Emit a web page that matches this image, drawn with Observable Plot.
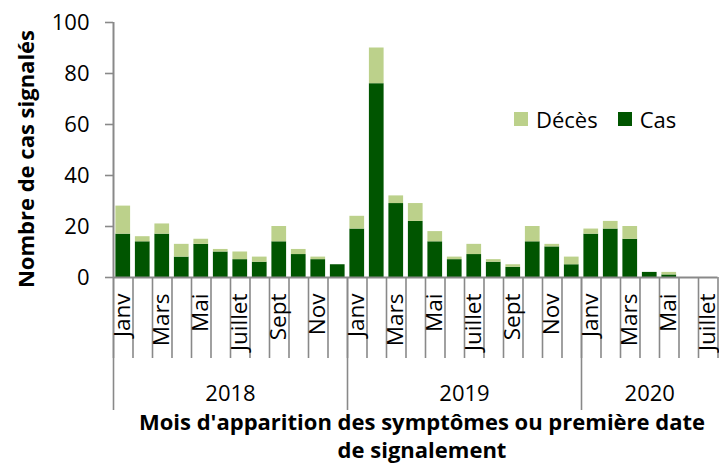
<!DOCTYPE html>
<html>
<head>
<meta charset="utf-8">
<script src="https://cdn.jsdelivr.net/npm/d3@7"></script>
<script src="https://cdn.jsdelivr.net/npm/@observablehq/plot@0.6"></script>
<style>
  html, body { margin: 0; padding: 0; background: #fff; }
  #chart { position: relative; width: 719px; height: 468px; font-family: 'Open Sans', sans-serif; color: #000; overflow: hidden; }
  #chart svg { position: absolute; left: 0; top: 0; }
  .ytitle { position: absolute; left: 25px; top: 159px; transform: translate(-50%, -50%) rotate(-90deg); font-weight: bold; font-size: 22px; white-space: nowrap; }
  .xtitle { position: absolute; left: 122px; width: 600px; top: 407px; text-align: center; font-weight: bold; font-size: 22px; line-height: 28px; }
  .legend { position: absolute; left: 514px; top: 108px; display: flex; align-items: center; gap: 20px; font-size: 22px; line-height: 22px; }
  .legend .item { display: flex; align-items: center; }
  .legend .sw { width: 14px; height: 14px; margin-right: 8px; }
</style>
</head>
<body>
<div id="chart"></div>
<script>
// ---- data ----
const years = ["2018", "2019", "2020"];
const monthsPerYear = [12, 12, 7];
const monthNames = ["Janv", "Févr", "Mars", "Avr", "Mai", "Juin", "Juillet", "Août", "Sept", "Oct", "Nov", "Déc"];
const cas =   [17, 14, 17, 8, 13, 10, 7, 6, 14, 9, 7, 5,
               19, 76, 29, 22, 14, 7, 9, 6, 4, 14, 12, 5,
               17, 19, 15, 2, 1, 0, 0];
const deces = [11, 2, 4, 5, 2, 1, 3, 2, 6, 2, 1, 0,
               5, 14, 3, 7, 4, 1, 4, 1, 1, 6, 1, 3,
               2, 3, 5, 0, 1, 0, 0];
const yTicks = [0, 20, 40, 60, 80, 100];
const seriesNames = ["Cas", "Décès"];
const seriesColors = ["#005500", "#bcd18b"];
const xTitle = ["Mois d'apparition des symptômes ou première date", "de signalement"];
const yTitle = "Nombre de cas signalés";

// ---- derived tables ----
const periods = [];
years.forEach((y, k) => {
  for (let m = 0; m < monthsPerYear[k]; m++) periods.push({i: periods.length, year: y, m, month: monthNames[m]});
});
const rows = periods.flatMap(p => [
  {i: p.i, series: seriesNames[0], value: cas[p.i]},
  {i: p.i, series: seriesNames[1], value: deces[p.i]}
]);
const n = periods.length;
const boundaries = d3.range(0, n + 1);
const yearStarts = [];
{ let s = 0; monthsPerYear.forEach(c => { yearStarts.push(s); s += c; }); }
const yearMids = years.map((y, k) => yearStarts[k] + monthsPerYear[k] / 2);
const labelPositions = periods.filter(p => p.m % 2 === 0).map(p => p.i + 0.5);

const grey = "#898989";

const plot = Plot.plot({
  width: 719,
  height: 468,
  marginTop: 22,
  marginBottom: 191,
  marginLeft: 113,
  marginRight: 1.5,
  style: {fontFamily: "'Open Sans', sans-serif", fontSize: "22px", color: "#000", background: "transparent", overflow: "visible"},
  x: {type: "linear", domain: [0, n]},
  y: {domain: [0, 100]},
  color: {domain: seriesNames, range: seriesColors},
  marks: [
    Plot.rectY(rows, {x1: "i", x2: d => d.i + 1, y: "value", fill: "series", insetLeft: 2.4, insetRight: 2.4}),
    Plot.axisX(boundaries, {tickSize: 81, tickFormat: () => "", label: null, stroke: grey, strokeWidth: 1.6}),
    Plot.axisX(yearStarts, {tickSize: 133, tickFormat: () => "", label: null, stroke: grey, strokeWidth: 1.6}),
    Plot.axisX(labelPositions, {tickSize: 0, tickPadding: 16, tickRotate: -90, textAnchor: "end", lineAnchor: "middle",
      tickFormat: d => periods[Math.floor(d)].month, label: null, fontSize: 22.5}),
    Plot.axisX(yearMids, {tickSize: 0, tickPadding: 108, tickFormat: d => years[yearMids.indexOf(d)], label: null, fontSize: 22}),
    Plot.axisY(yTicks, {tickSize: 8, tickPadding: 16, label: null, stroke: grey, strokeWidth: 1.6, fontSize: 22}),
    Plot.ruleX([0], {stroke: grey, strokeWidth: 2}),
    Plot.ruleY([0], {stroke: grey, strokeWidth: 2})
  ]
});

const chart = document.getElementById("chart");
chart.appendChild(plot);

const yt = document.createElement("div");
yt.className = "ytitle";
yt.textContent = yTitle;
chart.appendChild(yt);

const xt = document.createElement("div");
xt.className = "xtitle";
xt.innerHTML = xTitle.join("<br>");
chart.appendChild(xt);

const leg = document.createElement("div");
leg.className = "legend";
[1, 0].forEach(k => {
  const it = document.createElement("div");
  it.className = "item";
  const sw = document.createElement("span");
  sw.className = "sw";
  sw.style.background = seriesColors[k];
  it.appendChild(sw);
  it.appendChild(document.createTextNode(seriesNames[k]));
  leg.appendChild(it);
});
chart.appendChild(leg);
</script>
</body>
</html>
